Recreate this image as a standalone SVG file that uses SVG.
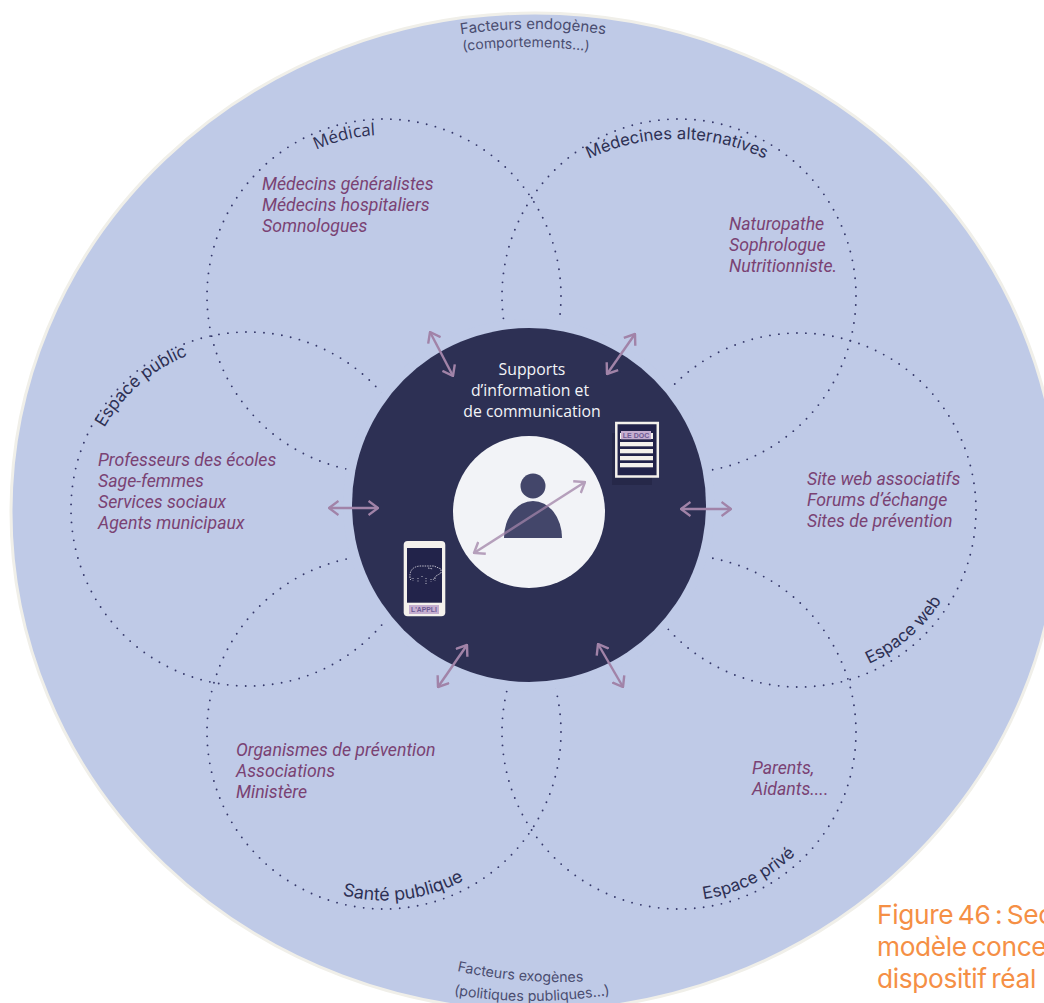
<svg xmlns="http://www.w3.org/2000/svg" xmlns:xlink="http://www.w3.org/1999/xlink" width="1044" height="1003" viewBox="0 0 1044 1003">
<style>
text{font-family:Inter,"Liberation Sans",sans-serif}
.dot{fill:none;stroke:#35386a;stroke-width:1.9;stroke-linecap:round;stroke-dasharray:0 9.04}
.actor{font-family:Roboto,"Liberation Sans",sans-serif;font-size:17.7px;font-style:italic;fill:#7a4273}
.lab{font-size:17px;fill:#2d3054;text-anchor:middle}
.fac{fill:#4a4d70;text-anchor:middle}
.arr{fill:none;stroke:#a183a8;stroke-width:2.4}
.fig{font-size:26.3px;fill:#f58f45;letter-spacing:-.35px;word-spacing:-2.5px}
</style>
<defs>
<path id="pMed" d="M223 296A161 161 0 0 1 545 296"/>
<path id="pAlt" d="M472 344A205 205 0 0 1 882 344"/>
<path id="pPub" d="M83 509A165 165 0 0 1 413 509"/>
<path id="pWeb" d="M630 510A169 169 0 0 0 968 510"/>
<path id="pSan" d="M215.500 732A168.500 168.500 0 0 0 552.500 732"/>
<path id="pPri" d="M510 732A169 169 0 0 0 848 732"/>
<path id="pEnd1" d="M333 71.700A490 490 0 0 1 733 71.700"/>
<path id="pEnd2" d="M326 89.700A490 490 0 0 1 726 89.700"/>
<path id="pExo1" d="M360 939.300A490 490 0 0 0 760 939.300"/>
<path id="pExo2" d="M332 958.300A490 490 0 0 0 732 958.300"/>
<marker id="ah" viewBox="-10 -8 11 16" refX="0" refY="0" markerWidth="11" markerHeight="16" markerUnits="userSpaceOnUse" orient="auto-start-reverse"><path d="M-9.500 -7L0 0L-9.500 7" fill="none" stroke="#a183a8" stroke-width="2.4"/></marker>
</defs>
<rect width="1044" height="1003" fill="#fff"/>
<ellipse id="outer" cx="535" cy="512" rx="524" ry="499" fill="#bfcae7" stroke="#f0efe9" stroke-width="3"/>
<g id="rings">
<circle class="dot" cx="384" cy="296" r="177"/>
<circle class="dot" cx="679" cy="296" r="177"/>
<circle class="dot" cx="248" cy="509" r="177"/>
<circle class="dot" cx="799" cy="510" r="177"/>
<circle class="dot" cx="384" cy="732" r="177"/>
<circle class="dot" cx="679" cy="732" r="177"/>
</g>
<circle cx="529" cy="505" r="186" fill="#bfcae7"/>
<g id="centre">
<circle cx="529" cy="505" r="177" fill="#2d3054"/>
<text font-size="15.800" fill="#f3f4f8" text-anchor="middle" style="font-family:'Open Sans',sans-serif"><tspan x="532" y="375">Supports</tspan><tspan x="530" y="396">d’information et</tspan><tspan x="532" y="417">de communication</tspan></text>
</g>
<g id="user">
<circle cx="529" cy="512" r="76" fill="#f2f3f7"/>
<circle cx="533" cy="486" r="12.500" fill="#43466a"/>
<path d="M504 538A29 37 0 0 1 562 538Z" fill="#43466a"/>
</g>
<g id="doc">
<rect x="612" y="433" width="40" height="52" fill="#262849"/>
<rect x="616.300" y="423" width="41.500" height="53.500" fill="#22234a" stroke="#f4f1ec" stroke-width="2.500"/>
<g fill="#f4f1ec"><rect x="620" y="433" width="33" height="6"/><rect x="620" y="442" width="33" height="4.300"/><rect x="620" y="449" width="33" height="4.300"/><rect x="620" y="456" width="33" height="4.300"/><rect x="620" y="463" width="33" height="4.300"/></g>
<rect x="621" y="431" width="30" height="8.300" fill="#c5aed0"/>
<text x="636" y="437.500" font-size="7" font-weight="700" fill="#6d5a94" text-anchor="middle" style="font-family:'Liberation Sans',sans-serif">LE DOC</text>
</g>
<g id="phone">
<rect x="403.700" y="541" width="41.600" height="75.300" rx="4" fill="#f4f1ec"/>
<rect x="407" y="548" width="35" height="54.700" fill="#22234a"/>
<rect x="409" y="605" width="30" height="9" fill="#c5aed0"/>
<text x="424" y="612" font-size="6.800" font-weight="700" fill="#6d5a94" text-anchor="middle" style="font-family:'Liberation Sans',sans-serif">L'APPLI</text>
<path d="M410 578Q409 567 420 566L434 566L441 569L441 573L436 576L433 580M410 580L412 578M428 568L433 569" fill="none" stroke="#e6e3ea" stroke-width=".8" stroke-dasharray="1.500 1"/>
<path d="M418 578V582M422 576V578M426 578V585M431 579V582M435 578V581M413 578V581" fill="none" stroke="#e6e3ea" stroke-width=".8" stroke-dasharray="1 1.500"/>
</g>
<g id="connectors">
<path class="arr" d="M430 332L453 376" marker-start="url(#ah)" marker-end="url(#ah)"/>
<path class="arr" d="M635 334L607 374" marker-start="url(#ah)" marker-end="url(#ah)"/>
<path class="arr" d="M329 508L378 508" marker-start="url(#ah)" marker-end="url(#ah)"/>
<path class="arr" d="M681 509L731 509" marker-start="url(#ah)" marker-end="url(#ah)"/>
<path class="arr" d="M585 482L474 553" marker-start="url(#ah)" marker-end="url(#ah)" opacity=".75"/>
<path class="arr" d="M467 645L438 687" marker-start="url(#ah)" marker-end="url(#ah)"/>
<path class="arr" d="M598 644L623 687" marker-start="url(#ah)" marker-end="url(#ah)"/>
</g>
<g id="medical">
<text class="lab" transform="rotate(-14 384 296)" style="font-family:'Open Sans',sans-serif"><textPath href="#pMed" startOffset="50%" xlink:href="#pMed">Médical</textPath></text>
<text class="actor"><tspan x="262" y="190">Médecins généralistes</tspan><tspan x="262" y="211">Médecins hospitaliers</tspan><tspan x="262" y="232">Somnologues</tspan></text>
</g>
<g id="alternatives">
<text class="lab" font-size="16.6" style="font-size:16.6px"><textPath href="#pAlt" startOffset="50%" xlink:href="#pAlt">Médecines alternatives</textPath></text>
<text class="actor"><tspan x="729" y="230">Naturopathe</tspan><tspan x="729" y="251">Sophrologue</tspan><tspan x="729" y="272">Nutritionniste.</tspan></text>
</g>
<g id="public">
<text class="lab" transform="rotate(-41 248 509)"><textPath href="#pPub" startOffset="50%" xlink:href="#pPub">Espace public</textPath></text>
<text class="actor"><tspan x="98" y="466">Professeurs des écoles</tspan><tspan x="98" y="487">Sage-femmes</tspan><tspan x="98" y="508">Services sociaux</tspan><tspan x="98" y="529">Agents municipaux</tspan></text>
</g>
<g id="web">
<text class="lab" transform="rotate(-41 799 510)"><textPath href="#pWeb" startOffset="50%" xlink:href="#pWeb">Espace web</textPath></text>
<text class="actor"><tspan x="807" y="485">Site web associatifs</tspan><tspan x="807" y="506">Forums d’échange</tspan><tspan x="807" y="527">Sites de prévention</tspan></text>
</g>
<g id="sante">
<text class="lab" transform="rotate(-7 384 732)" style="font-size:17.8px"><textPath href="#pSan" startOffset="50%" xlink:href="#pSan">Santé publique</textPath></text>
<text class="actor"><tspan x="236" y="756">Organismes de prévention</tspan><tspan x="236" y="777">Associations</tspan><tspan x="236" y="798">Ministère</tspan></text>
</g>
<g id="prive">
<text class="lab" transform="rotate(-26 679 732)"><textPath href="#pPri" startOffset="50%" xlink:href="#pPri">Espace privé</textPath></text>
<text class="actor"><tspan x="752" y="774">Parents,</tspan><tspan x="752" y="795">Aidants....</tspan></text>
</g>
<g id="factors">
<text class="fac" font-size="15"><textPath href="#pEnd1" startOffset="50%" xlink:href="#pEnd1">Facteurs endogènes</textPath></text>
<text class="fac" font-size="14"><textPath href="#pEnd2" startOffset="50%" xlink:href="#pEnd2">(comportements…)</textPath></text>
<text class="fac" font-size="14.200" transform="rotate(4.700 560 492)"><textPath href="#pExo1" startOffset="50%" xlink:href="#pExo1">Facteurs exogènes</textPath></text>
<text class="fac" font-size="14.200"><textPath href="#pExo2" startOffset="50%" xlink:href="#pExo2">(politiques publiques…)</textPath></text>
</g>
<text class="fig"><tspan x="877" y="924">Figure 46 : Sec</tspan><tspan x="877" y="956">modèle conce</tspan><tspan x="877" y="988">dispositif réal</tspan></text>
</svg>
